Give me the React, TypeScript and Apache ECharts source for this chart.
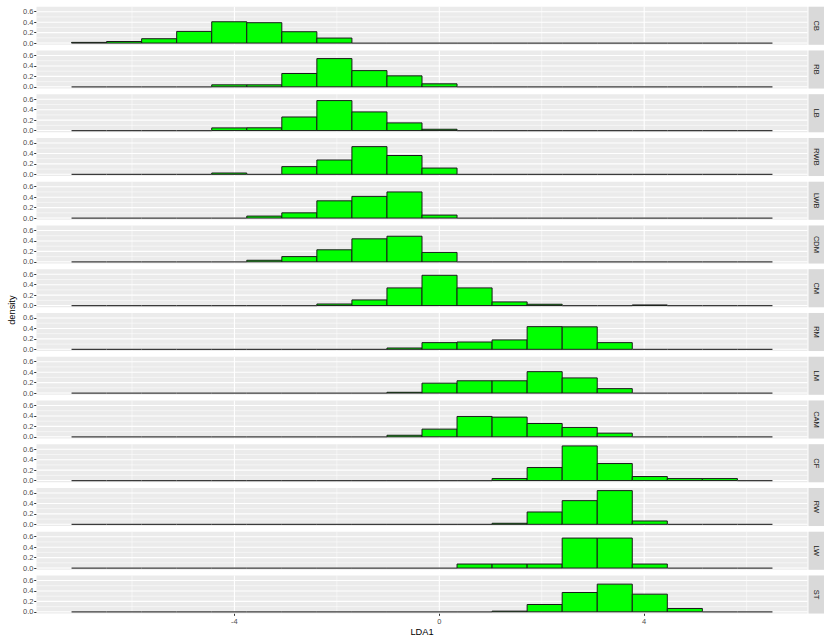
import React, { useEffect, useRef } from 'react';
import * as echarts from 'echarts';

const positions = ['CB', 'RB', 'LB', 'RWB', 'LWB', 'CDM', 'CM', 'RM', 'LM', 'CAM', 'CF', 'RW', 'LW', 'ST'];
const binStart = -7.18;
const binWidth = 0.6842;

const CB = [0.013, 0.03, 0.083, 0.223, 0.408, 0.39, 0.217, 0.096, 0.003, 0.003, 0, 0, 0, 0, 0, 0, 0, 0, 0, 0];
const RB = [0, 0, 0, 0.01, 0.038, 0.038, 0.255, 0.54, 0.31, 0.21, 0.057, 0, 0, 0, 0, 0, 0, 0, 0, 0];
const LB = [0, 0, 0, 0, 0.051, 0.053, 0.26, 0.574, 0.357, 0.147, 0.025, 0, 0, 0, 0, 0, 0, 0, 0, 0];
const RWB = [0, 0, 0, 0, 0.025, 0, 0.147, 0.274, 0.53, 0.36, 0.12, 0, 0, 0, 0, 0, 0, 0, 0, 0];
const LWB = [0, 0, 0, 0, 0, 0.038, 0.1, 0.33, 0.415, 0.5, 0.057, 0, 0, 0, 0, 0, 0, 0, 0, 0];
const CDM = [0, 0, 0, 0, 0.003, 0.03, 0.1, 0.23, 0.44, 0.49, 0.18, 0, 0, 0, 0, 0, 0, 0, 0, 0];
const CM = [0, 0, 0, 0, 0, 0, 0, 0.03, 0.108, 0.338, 0.58, 0.338, 0.07, 0.025, 0, 0, 0.012, 0, 0, 0];
const RM = [0, 0, 0, 0, 0, 0, 0, 0, 0, 0.025, 0.128, 0.14, 0.18, 0.434, 0.43, 0.128, 0.006, 0, 0, 0];
const LM = [0, 0, 0, 0, 0, 0, 0, 0, 0.003, 0.015, 0.19, 0.235, 0.235, 0.41, 0.29, 0.085, 0, 0, 0, 0];
const CAM = [0, 0, 0, 0, 0, 0, 0, 0, 0.003, 0.03, 0.147, 0.39, 0.377, 0.255, 0.18, 0.07, 0.003, 0.003, 0, 0];
const CF = [0, 0, 0, 0, 0, 0, 0, 0, 0, 0, 0, 0, 0.038, 0.249, 0.663, 0.326, 0.077, 0.038, 0.038, 0];
const RW = [0, 0, 0, 0, 0, 0, 0, 0, 0, 0, 0, 0, 0.02, 0.236, 0.453, 0.645, 0.064, 0, 0, 0];
const LW = [0, 0, 0, 0, 0, 0, 0, 0, 0, 0, 0, 0.077, 0.077, 0.077, 0.574, 0.574, 0.077, 0, 0, 0];
const ST = [0, 0, 0, 0, 0, 0, 0, 0, 0, 0, 0, 0, 0.013, 0.14, 0.37, 0.53, 0.338, 0.064, 0.005, 0];

const densities = [CB, RB, LB, RWB, LWB, CDM, CM, RM, LM, CAM, CF, RW, LW, ST];

const xMajor = [-4, 0, 4];
const xMinor = [-6, -2, 2, 6];
const yMajor = [0, 0.2, 0.4, 0.6];
const yMinor = [0.1, 0.3, 0.5];

const FONT = '"Liberation Sans", Arial, Helvetica, sans-serif';

export default function App() {
  const ref = useRef<HTMLDivElement>(null);

  useEffect(() => {
    if (!ref.current) return;
    const chart = echarts.init(ref.current, null, { renderer: 'svg' });

    const nBins = densities[0].length;
    const xLo = binStart;
    const xHi = binStart + nBins * binWidth;
    const xPad = (xHi - xLo) * 0.05;
    const xMin = xLo - xPad;
    const xMax = xHi + xPad;
    const dMax = Math.max(...densities.flat());
    const yMin = -dMax * 0.05;
    const yMax = dMax * 1.05;

    const L = 36.5;
    const W = 771;
    const T0 = 6.7;
    const pitch = 43.75;
    const H = 38.1;
    const n = positions.length;

    const grids: any[] = [];
    const xAxes: any[] = [];
    const yAxes: any[] = [];
    const series: any[] = [];
    const graphics: any[] = [];

    const gridData = [
      ...xMinor.map((v) => [v, 0, 0]),
      ...xMajor.map((v) => [v, 0, 1]),
      ...yMinor.map((v) => [v, 1, 0]),
      ...yMajor.map((v) => [v, 1, 1]),
    ];

    for (let i = 0; i < n; i++) {
      const top = T0 + pitch * i;
      const isLast = i === n - 1;
      grids.push({
        left: L,
        top,
        width: W,
        height: H,
        show: true,
        backgroundColor: '#EBEBEB',
        borderWidth: 0,
        containLabel: false,
      });
      xAxes.push({
        gridIndex: i,
        type: 'value',
        position: 'bottom',
        min: xMin,
        max: xMax,
        axisLine: { show: false, onZero: false },
        splitLine: { show: false },
        minorTick: { show: false },
        axisTick: {
          show: isLast,
          customValues: xMajor,
          length: 2.3,
          lineStyle: { color: '#333333', width: 1 },
        },
        axisLabel: {
          show: isLast,
          customValues: xMajor,
          color: '#4D4D4D',
          fontSize: 7.5,
          fontFamily: FONT,
          margin: 4,
        },
      });
      yAxes.push({
        gridIndex: i,
        type: 'value',
        position: 'left',
        min: yMin,
        max: yMax,
        axisLine: { show: false, onZero: false },
        splitLine: { show: false },
        minorTick: { show: false },
        axisTick: {
          show: true,
          customValues: yMajor,
          length: 2.3,
          lineStyle: { color: '#333333', width: 1 },
        },
        axisLabel: {
          customValues: yMajor,
          formatter: (v: number) => v.toFixed(1),
          color: '#4D4D4D',
          fontSize: 7.5,
          fontFamily: FONT,
          margin: 3,
        },
      });

      series.push({
        type: 'custom',
        xAxisIndex: i,
        yAxisIndex: i,
        z: 1,
        silent: true,
        data: gridData,
        encode: { x: 0, y: 1 },
        renderItem: (_p: any, api: any) => {
          const v = api.value(0);
          const dir = api.value(1);
          const major = api.value(2);
          let a: number[];
          let b: number[];
          if (dir === 0) {
            a = api.coord([v, yMin]);
            b = api.coord([v, yMax]);
          } else {
            a = api.coord([xMin, v]);
            b = api.coord([xMax, v]);
          }
          return {
            type: 'line',
            shape: { x1: a[0], y1: a[1], x2: b[0], y2: b[1] },
            style: { stroke: '#FFFFFF', lineWidth: major ? 1.07 : 0.53 },
          };
        },
      });

      series.push({
        type: 'custom',
        xAxisIndex: i,
        yAxisIndex: i,
        z: 2,
        silent: true,
        data: densities[i].map((d, k) => [binStart + k * binWidth, binStart + (k + 1) * binWidth, d]),
        encode: { x: [0, 1], y: 2 },
        renderItem: (_p: any, api: any) => {
          const p0 = api.coord([api.value(0), api.value(2)]);
          const p1 = api.coord([api.value(1), 0]);
          const h = p1[1] - p0[1];
          if (h < 0.6) {
            return {
              type: 'line',
              shape: { x1: p0[0], y1: p1[1], x2: p1[0], y2: p1[1] },
              style: { stroke: '#3a3a3a', lineWidth: 1.2 },
            };
          }
          return {
            type: 'rect',
            shape: { x: p0[0], y: p0[1], width: p1[0] - p0[0], height: h },
            style: { fill: '#00FF00', stroke: '#1A1A1A', lineWidth: 1 },
          };
        },
      });

      graphics.push({
        type: 'rect',
        shape: { x: 808.5, y: top, width: 15.5, height: H },
        style: { fill: '#D9D9D9' },
        silent: true,
      });
      graphics.push({
        type: 'text',
        x: 816.3,
        y: top + H / 2,
        rotation: -Math.PI / 2,
        silent: true,
        style: {
          text: positions[i],
          fill: '#1A1A1A',
          fontSize: 7.5,
          fontFamily: FONT,
          align: 'center',
          verticalAlign: 'middle',
        },
      });
    }

    graphics.push({
      type: 'text',
      x: 12,
      y: T0 + (pitch * (n - 1) + H) / 2,
      rotation: Math.PI / 2,
      silent: true,
      style: {
        text: 'density',
        fill: '#000000',
        fontSize: 9.3,
        fontFamily: FONT,
        align: 'center',
        verticalAlign: 'middle',
      },
    });
    graphics.push({
      type: 'text',
      x: L + W / 2,
      y: 632,
      silent: true,
      style: {
        text: 'LDA1',
        fill: '#000000',
        fontSize: 9.3,
        fontFamily: FONT,
        align: 'center',
        verticalAlign: 'middle',
      },
    });

    chart.setOption({
      animation: false,
      backgroundColor: '#FFFFFF',
      grid: grids,
      xAxis: xAxes,
      yAxis: yAxes,
      series,
      graphic: graphics,
    });

    return () => {
      chart.dispose();
    };
  }, []);

  return (
    <div
      ref={ref}
      style={{ position: 'absolute', left: 0, top: 0, width: 827, height: 642 }}
    />
  );
}
